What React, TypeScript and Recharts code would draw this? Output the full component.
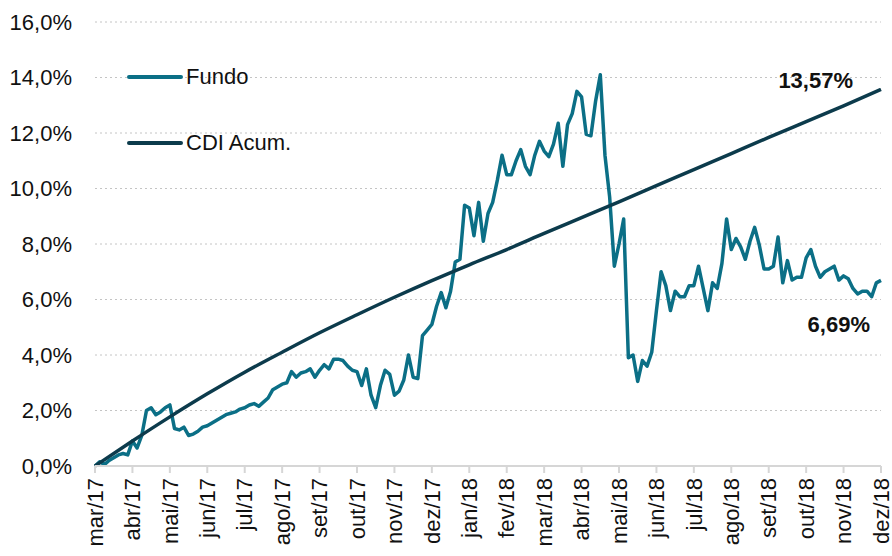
import React from 'react';
import { LineChart, Line, XAxis, YAxis, CartesianGrid, Legend, LabelList } from 'recharts';

const MONTHS = [
  'mar/17', 'abr/17', 'mai/17', 'jun/17', 'jul/17', 'ago/17', 'set/17', 'out/17', 'nov/17', 'dez/17',
  'jan/18', 'fev/18', 'mar/18', 'abr/18', 'mai/18', 'jun/18', 'jul/18', 'ago/18', 'set/18', 'out/18',
  'nov/18', 'dez/18',
];

// CDI acumulado, um valor por mês (%)
const CDI_ACUM = [
  0, 0.9, 1.77, 2.6, 3.38, 4.1, 4.8, 5.45, 6.08, 6.68, 7.25, 7.8, 8.38, 8.95, 9.52, 10.1, 10.68,
  11.26, 11.84, 12.41, 12.98, 13.57,
];

// Fundo, retorno acumulado (%), 8 leituras por mês
const POINTS_PER_MONTH = 8;
const FUNDO = [
  0.0, 0.15, 0.05, 0.2, 0.3, 0.4, 0.45, 0.4, // mar/17
  0.9, 0.65, 1.1, 2.0, 2.1, 1.85, 1.95, 2.1, // abr/17
  2.2, 1.35, 1.3, 1.4, 1.1, 1.15, 1.25, 1.4, // mai/17
  1.45, 1.55, 1.65, 1.75, 1.85, 1.9, 1.95, 2.05, // jun/17
  2.1, 2.2, 2.25, 2.15, 2.3, 2.45, 2.75, 2.85, // jul/17
  2.95, 3.0, 3.4, 3.2, 3.35, 3.4, 3.5, 3.2, // ago/17
  3.45, 3.65, 3.5, 3.85, 3.85, 3.8, 3.6, 3.45, // set/17
  3.4, 2.9, 3.5, 2.55, 2.1, 2.9, 3.45, 3.3, // out/17
  2.55, 2.7, 3.1, 4.0, 3.2, 3.15, 4.7, 4.9, // nov/17
  5.1, 5.75, 6.25, 5.7, 6.3, 7.35, 7.45, 9.4, // dez/17
  9.3, 8.3, 9.5, 8.1, 9.1, 9.5, 10.3, 11.2, // jan/18
  10.5, 10.5, 11.0, 11.4, 10.8, 10.5, 11.2, 11.7, // fev/18
  11.35, 11.15, 11.6, 12.35, 10.8, 12.3, 12.7, 13.5, // mar/18
  13.3, 11.95, 11.9, 13.15, 14.1, 11.2, 9.7, 7.2, // abr/18
  8.0, 8.9, 3.9, 4.0, 3.05, 3.8, 3.6, 4.1, // mai/18
  5.6, 7.0, 6.5, 5.6, 6.3, 6.1, 6.1, 6.5, // jun/18
  6.5, 7.2, 6.4, 5.6, 6.6, 6.4, 7.3, 8.9, // jul/18
  7.8, 8.2, 7.9, 7.45, 8.1, 8.6, 7.95, 7.1, // ago/18
  7.1, 7.2, 8.25, 6.6, 7.4, 6.7, 6.8, 6.8, // set/18
  7.5, 7.8, 7.2, 6.8, 7.0, 7.1, 7.2, 6.7, // out/18
  6.85, 6.75, 6.4, 6.2, 6.3, 6.3, 6.1, 6.6, // nov/18
  6.69, // dez/18
];

const SERIES = [
  { key: 'fundo', name: 'Fundo', color: '#0b6f86' },
  { key: 'cdi', name: 'CDI Acum.', color: '#0c3b4c' },
];

const FONT = '"Liberation Sans", Arial, sans-serif';

const data = FUNDO.map((v, i) => ({
  m: i / POINTS_PER_MONTH,
  fundo: v,
  cdi: i % POINTS_PER_MONTH === 0 ? CDI_ACUM[i / POINTS_PER_MONTH] : null,
}));

const lastIndex = data.length - 1;
const fmtPct = (v: number, d: number) => v.toFixed(d).replace('.', ',') + '%';

const XTick = ({ x, y, payload }: any) => (
  <text
    x={x}
    y={y}
    transform={`rotate(-90, ${x}, ${y})`}
    textAnchor="end"
    dy="0.35em"
    fontSize={22}
    fontFamily={FONT}
    fill="#111"
  >
    {MONTHS[payload.value]}
  </text>
);

const YTick = ({ x, y, payload }: any) => (
  <text x={x} y={y} textAnchor="end" dy="0.35em" fontSize={22} fontFamily={FONT} fill="#111">
    {fmtPct(payload.value, 1)}
  </text>
);

const LegendBox = () => (
  <div style={{ display: 'flex', flexDirection: 'column', gap: 44 }}>
    {SERIES.map((s) => (
      <div key={s.key} style={{ display: 'flex', alignItems: 'center', height: 22 }}>
        <svg width={56} height={6}>
          <line x1={2} y1={3} x2={54} y2={3} stroke={s.color} strokeWidth={4} strokeLinecap="round" />
        </svg>
        <span style={{ marginLeft: 3, fontSize: 22, fontFamily: FONT, color: '#111', lineHeight: '22px' }}>
          {s.name}
        </span>
      </div>
    ))}
  </div>
);

const endLabel = (dx: number, dy: number) => (props: any) => {
  if (props.index !== lastIndex || props.value == null) return null;
  return (
    <text
      x={props.x + dx}
      y={props.y + dy}
      textAnchor="end"
      fontSize={22}
      fontWeight="bold"
      fontFamily={FONT}
      fill="#111"
    >
      {fmtPct(props.value, 2)}
    </text>
  );
};

export default function App() {
  return (
    <div style={{ position: 'fixed', left: 0, top: 0, width: 892, height: 556, background: '#fff' }}>
      <LineChart width={892} height={556} data={data} margin={{ top: 22, right: 11, left: 0, bottom: 0 }}>
        <CartesianGrid vertical={false} stroke="#c4c4c4" strokeDasharray="2 3" />
        <XAxis
          dataKey="m"
          type="number"
          domain={[0, 21]}
          ticks={MONTHS.map((_, i) => i)}
          interval={0}
          height={90}
          tick={<XTick />}
          tickSize={7}
          tickMargin={5}
          tickLine={{ stroke: '#d6d6d6', strokeWidth: 2 }}
          axisLine={{ stroke: '#d6d6d6', strokeWidth: 2 }}
        />
        <YAxis
          domain={[0, 16]}
          ticks={[0, 2, 4, 6, 8, 10, 12, 14, 16]}
          width={95}
          tick={<YTick />}
          tickSize={0}
          tickMargin={23}
          tickLine={false}
          axisLine={false}
        />
        <Legend
          verticalAlign="middle"
          align="center"
          layout="vertical"
          content={<LegendBox />}
          wrapperStyle={{ left: 127, top: 66, width: 'auto' }}
        />
        <Line
          dataKey="fundo"
          name="Fundo"
          type="linear"
          stroke={SERIES[0].color}
          strokeWidth={3.5}
          strokeLinejoin="round"
          dot={false}
          isAnimationActive={false}
        >
          <LabelList dataKey="fundo" content={endLabel(-11, 52)} />
        </Line>
        <Line
          dataKey="cdi"
          name="CDI Acum."
          type="monotone"
          connectNulls
          stroke={SERIES[1].color}
          strokeWidth={3.5}
          dot={false}
          isAnimationActive={false}
        >
          <LabelList dataKey="cdi" content={endLabel(-28, -1)} />
        </Line>
      </LineChart>
    </div>
  );
}
